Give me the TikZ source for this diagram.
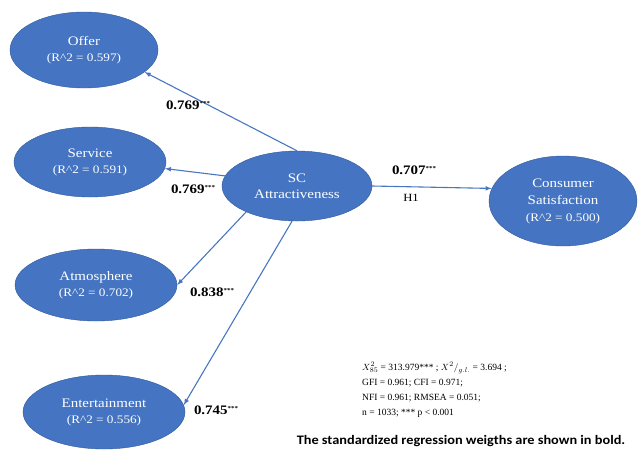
\documentclass[tikz,border=0pt]{standalone}
\usepackage{amsmath}
\usepackage{fontspec}
\setmainfont{Liberation Serif}[FakeStretch=1.15]
\newfontfamily\statfont{Liberation Serif}
\newfontfamily\notefont{Carlito}[FakeStretch=1.1]
\usepackage{tikz}
\usetikzlibrary{arrows,shapes}
\definecolor{scfill}{RGB}{68,116,194}
\definecolor{scline}{RGB}{50,90,155}
\definecolor{scarrow}{RGB}{72,118,192}
\newcommand{\rsq}[1]{{\fontsize{11.5}{12}\selectfont(R\textasciicircum2 = #1)}}
\newcommand{\stars}{\raisebox{4pt}{\fontsize{6}{6}\selectfont***}}

\begin{document}
\begin{tikzpicture}[x=1pt,y=-1pt,
  construct/.style={ellipse,draw=scline,fill=scfill,text=white,align=center,
    inner sep=0,font=\fontsize{13}{14}\selectfont},
  path/.style={draw=scarrow,line width=1.1pt,->,>=latex},
  coef/.style={font=\fontsize{13}{14}\selectfont\bfseries,inner sep=0}]
\useasboundingbox (0,0) rectangle (638,451);

\node[construct,minimum width=148,minimum height=76] (offer) at (84,50)
  {Offer\\[2pt]\rsq{0.597}};
\node[construct,minimum width=152,minimum height=70] (service) at (90,162)
  {Service\\[2pt]\rsq{0.591}};
\node[construct,minimum width=162,minimum height=72] (atmos) at (96,285)
  {Atmosphere\\[2pt]\rsq{0.702}};
\node[construct,minimum width=162,minimum height=74] (enter) at (104,412)
  {Entertainment\\[2pt]\rsq{0.556}};
\node[construct,minimum width=150,minimum height=70] (sc) at (297,186)
  {SC\\[2pt]Attractiveness};
\node[construct,minimum width=148,minimum height=90] (cs) at (563,201)
  {Consumer\\[3pt]Satisfaction\\[3pt]\rsq{0.500}};

% structural paths
\draw[path] (sc.north) -- (offer.-20);
\draw[path] (sc.172) -- (service.-5);
\draw[path] (sc.207) -- (atmos.east);
\draw[path] (sc.262) -- (enter.5);
\draw[path] (sc.east) -- (cs.170);

\node[coef] (l1) at (188,105) {0.769\stars};
\node[coef] (l2) at (193,189) {0.769\stars};
\node[coef] (l3) at (212,292) {0.838\stars};
\node[coef] (l4) at (216,410) {0.745\stars};
\node[coef] (l5) at (414,170) {0.707\stars};
\node[inner sep=0,font=\fontsize{11}{12}\selectfont] (h1) at (411,198) {H1};

\node[anchor=north west,align=left,inner sep=0,
  font=\statfont\fontsize{9.5}{15}\selectfont] (fit) at (362,362)
  {$X^2_{85}$ = 313.979*** ; $X^2/_{g.l.}$ = 3.694 ;\\
   GFI = 0.961; CFI = 0.971;\\
   NFI = 0.961; RMSEA = 0.051;\\
   n = 1033; *** p {\textless} 0.001};
\node[inner sep=0,font=\notefont\bfseries\fontsize{13}{14}\selectfont] (note) at (461,441)
  {The standardized regression weigths are shown in bold.};
\end{tikzpicture}
\end{document}
